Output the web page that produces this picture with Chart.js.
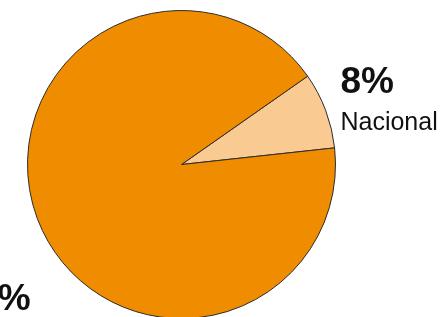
<!DOCTYPE html>
<html>
<head>
<meta charset="utf-8">
<script src="https://cdn.jsdelivr.net/npm/chart.js@4.4.1/dist/chart.umd.min.js"></script>
<style>
  html, body { margin: 0; padding: 0; background: #fff; overflow: hidden; }
  #wrap { position: relative; width: 446px; height: 320px; }
</style>
</head>
<body>
<div id="wrap"><canvas id="pie-chart"></canvas></div>
<script>
// slice data (percent share)
const categories = ['Nacional', 'Internacional'];
const shares = [8, 92];
const sliceColors = ['#f9cb93', '#ef8c00'];

const FONT = '"Helvetica Neue", Helvetica, Arial, "Liberation Sans", sans-serif';

// where each label sits, relative to the pie centre in units of radius
const labelSpots = [
    { dx: 1.032, dy: -0.388, align: 'left' },
    { dx: -0.98, dy: 0.945, align: 'right', single: true }
];

const sliceLabels = {
    id: 'sliceLabels',
    afterDatasetsDraw(chart) {
        const c = chart.ctx;
        const arcs = chart.getDatasetMeta(0).data;
        const total = shares.reduce((a, b) => a + b, 0);
        c.save();
        c.fillStyle = '#111';
        arcs.forEach((arc, i) => {
            const spot = labelSpots[i];
            const x = arc.x + spot.dx * arc.outerRadius;
            const y = arc.y + spot.dy * arc.outerRadius;
            const pct = Math.round(shares[i] / total * 100) + '%';
            c.textAlign = spot.align;
            c.textBaseline = 'alphabetic';
            c.font = 'bold 37px ' + FONT;
            if (spot.single) {
                c.fillText(pct, x, y);
                c.font = '25px ' + FONT;
                c.fillText(categories[i], x, y + 37);
            } else {
                c.fillText(pct, x, y - 12);
                c.font = '25px ' + FONT;
                c.fillText(categories[i], x, y + 25);
            }
        });
        c.restore();
    }
};

new Chart(document.getElementById('pie-chart'), {
    type: 'pie',
    data: {
        labels: categories,
        datasets: [{
            data: shares,
            backgroundColor: sliceColors,
            borderColor: '#2b2b2b',
            borderWidth: 1,
            hoverOffset: 0,
            offset: 0
        }]
    },
    options: {
        responsive: true,
        maintainAspectRatio: false,
        animation: false,
        rotation: 55,
        layout: { padding: { left: 27, right: 110, top: 10, bottom: 1 } },
        plugins: {
            legend: { display: false },
            tooltip: { enabled: false }
        }
    },
    plugins: [sliceLabels]
});
</script>
</body>
</html>
